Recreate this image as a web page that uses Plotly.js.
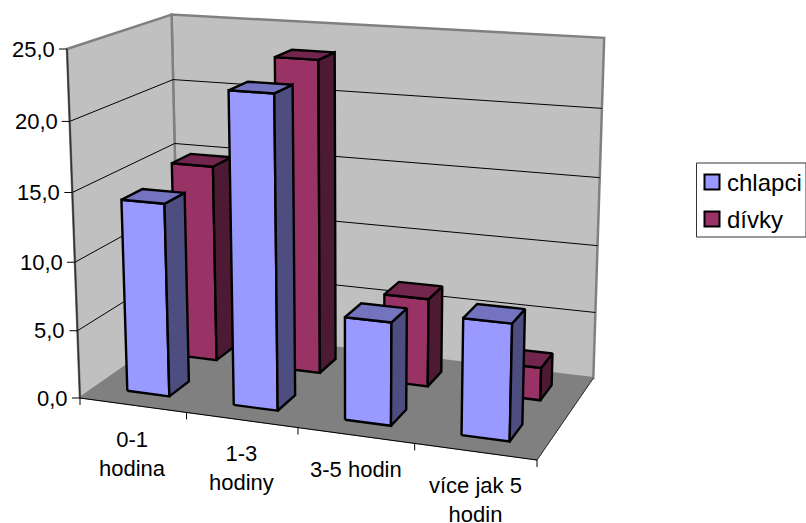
<!DOCTYPE html>
<html>
<head>
<meta charset="utf-8">
<script src="https://cdn.plot.ly/plotly-3.0.1.min.js"></script>
<style>html,body{margin:0;padding:0;background:#fff}#chart{width:806px;height:523px}</style>
</head>
<body>
<div id="chart"></div>
<script>
const categories = ['0-1<br>hodina', '1-3<br>hodiny', '3-5 hodin', 'více jak 5<br>hodin'];
const seriesNames = ['chlapci', 'dívky'];
const chlapci = [14.1, 22.4, 7.35, 8.2];
const divky = [14.9, 23.3, 6.55, 2.4];
const valueTicks = [0, 5, 10, 15, 20, 25];
const valueTickLabels = ['0,0', '5,0', '10,0', '15,0', '20,0', '25,0'];

const FONT = 'Liberation Sans, Arial, sans-serif';
const VALUE_MAX = 25;

// Box corners on screen and perspective terms of the 3-D view.
const ORIGIN = [80, 398], END_U = [537, 460], END_V = [67, 49], END_W = [179, 329];
const PERSP = {u: -0.088, v: -0.045, w: 0.115};

const axisVec = (end, k) => [(1 + k) * end[0] - ORIGIN[0], (1 + k) * end[1] - ORIGIN[1]];
const VEC_U = axisVec(END_U, PERSP.u), VEC_V = axisVec(END_V, PERSP.v), VEC_W = axisVec(END_W, PERSP.w);

// Projects (category position, value share, depth), each 0..1, onto the plot axes.
function project(u, v, w) {
  const d = 1 + PERSP.u * u + PERSP.v * v + PERSP.w * w;
  return [0, 1].map(i => (ORIGIN[i] + VEC_U[i] * u + VEC_V[i] * v + VEC_W[i] * w) / d);
}

function polygon(points, fill, line, width) {
  const xy = points.concat([points[0]]).map(p => project(p[0], p[1], p[2]));
  return {
    x: xy.map(p => p[0]), y: xy.map(p => p[1]), mode: 'lines', fill: 'toself', fillcolor: fill,
    line: {color: line, width: width, simplify: false}, hoverinfo: 'skip', showlegend: false
  };
}

function segment(a, b, color, width) {
  const pa = project(a[0], a[1], a[2]), pb = project(b[0], b[1], b[2]);
  return {
    x: [pa[0], pb[0]], y: [pa[1], pb[1]], mode: 'lines',
    line: {color: color, width: width}, hoverinfo: 'skip', showlegend: false
  };
}

// One trace per visible face of a series; bars are separated by gaps in the arrays.
function seriesFaces(values, w0, w1, colors) {
  const faces = {front: [], side: [], top: []};
  values.forEach((val, i) => {
    const u0 = (i + 0.3) / values.length, u1 = (i + 0.7) / values.length, v = val / VALUE_MAX;
    faces.front.push([[u0,0,w0],[u1,0,w0],[u1,v,w0],[u0,v,w0]]);
    faces.side.push([[u1,0,w0],[u1,0,w1],[u1,v,w1],[u1,v,w0]]);
    faces.top.push([[u0,v,w0],[u1,v,w0],[u1,v,w1],[u0,v,w1]]);
  });
  return ['front','side','top'].map(name => {
    const xs = [], ys = [];
    faces[name].forEach(q => {
      q.concat([q[0]]).forEach(p => { const s = project(p[0], p[1], p[2]); xs.push(s[0]); ys.push(s[1]); });
      xs.push(null); ys.push(null);
    });
    return {x: xs, y: ys, mode: 'lines', fill: 'toself', fillcolor: colors[name],
            line: {color: '#000', width: 2.4}, hoverinfo: 'skip', showlegend: false};
  });
}

const traces = [];
// Walls and floor
traces.push(polygon([[0,0,1],[1,0,1],[1,1,1],[0,1,1]], '#C0C0C0', '#808080', 2.5));
traces.push(polygon([[0,0,0],[0,0,1],[0,1,1],[0,1,0]], '#C0C0C0', '#808080', 2.5));
traces.push(polygon([[0,0,0],[1,0,0],[1,0,1],[0,0,1]], '#808080', '#808080', 1));

// Gridlines on both walls
valueTicks.slice(1, -1).forEach(t => {
  const v = t / VALUE_MAX;
  traces.push(segment([0,v,0],[0,v,1],'#000',1));
  traces.push(segment([0,v,1],[1,v,1],'#000',1));
});

// Axis lines and tick marks
traces.push(segment([0,0,0],[0,1,0],'#333',1.5));
traces.push(segment([0,0,0],[1,0,0],'#000',1));
traces.push(segment([1,0,0],[1,0,1],'#333',1));
const tickTrace = {x: [], y: [], mode: 'lines', line: {color: '#000', width: 1}, hoverinfo: 'skip', showlegend: false};
const annotations = [];
valueTicks.forEach((t, i) => {
  const p = project(0, t / VALUE_MAX, 0);
  tickTrace.x.push(p[0] - 8, p[0], null);
  tickTrace.y.push(p[1], p[1], null);
  annotations.push({xref: 'x', yref: 'y', x: p[0] - 10, y: p[1], xanchor: 'right', yanchor: 'middle',
    text: valueTickLabels[i], showarrow: false, font: {family: FONT, size: 22, color: '#000'}});
});
for (let i = 0; i <= categories.length; i++) {
  const p = project(i / categories.length, 0, 0);
  tickTrace.x.push(p[0], p[0], null);
  tickTrace.y.push(p[1], p[1] + 7, null);
}
traces.push(tickTrace);
categories.forEach((c, i) => {
  const p = project((i + 0.5) / categories.length, 0, 0);
  annotations.push({xref: 'x', yref: 'y', x: p[0], y: p[1] + 19.5, xanchor: 'center', yanchor: 'top',
    text: c, showarrow: false, align: 'center', font: {family: FONT, size: 22, color: '#000'}});
});

// Bars: the back row first so the front row overlaps it
const divkyColors = {front: '#993366', side: '#4D1A33', top: '#73264D'};
const chlapciColors = {front: '#9999FF', side: '#4D4D80', top: '#7373BF'};
traces.push(...seriesFaces(divky, 0.65, 0.85, divkyColors));
traces.push(...seriesFaces(chlapci, 0.15, 0.35, chlapciColors));

// Legend swatches and names
const legendRows = [182, 219];
traces.push({x: [712, 712], y: legendRows, mode: 'markers',
  marker: {symbol: 'square', size: 15, color: ['#9999FF', '#993366'], line: {color: '#000', width: 2}},
  hoverinfo: 'skip', showlegend: false, cliponaxis: false});
seriesNames.forEach((name, i) => {
  annotations.push({xref: 'x', yref: 'y', x: 725, y: legendRows[i], xanchor: 'left', yanchor: 'middle',
    text: name, showarrow: false, font: {family: FONT, size: 24, color: '#000'}});
});

Plotly.newPlot('chart', traces, {
  width: 806, height: 523, margin: {l: 0, r: 0, t: 0, b: 0},
  paper_bgcolor: '#fff', plot_bgcolor: '#fff', showlegend: false,
  xaxis: {range: [0, 806], visible: false, fixedrange: true},
  yaxis: {range: [523, 0], visible: false, fixedrange: true},
  annotations: annotations,
  shapes: [{type: 'rect', xref: 'x', yref: 'y', x0: 696.5, x1: 806, y0: 163, y1: 237, line: {color: '#333', width: 1}, fillcolor: 'rgba(0,0,0,0)'}]
}, {displayModeBar: false, staticPlot: true});
</script>
</body>
</html>
